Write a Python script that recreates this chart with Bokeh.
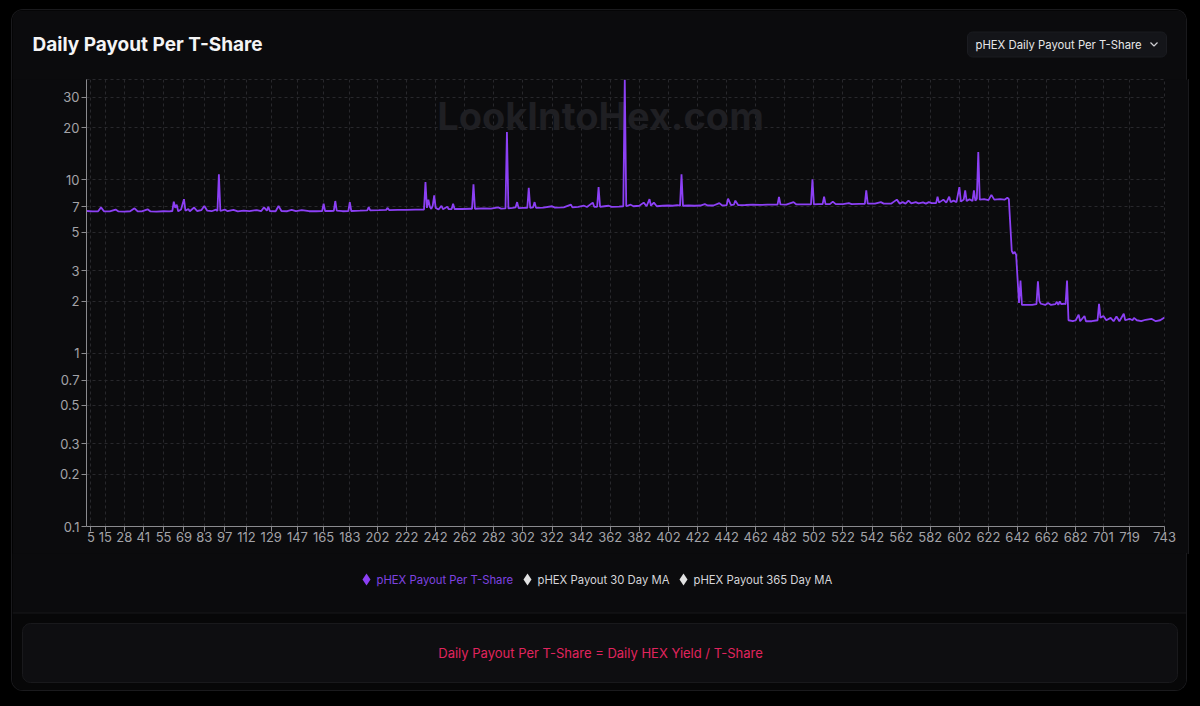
from bokeh.plotting import figure
from bokeh.models import Range1d, FixedTicker, BoxAnnotation, Label
from bokeh.embed import file_html
from bokeh.resources import INLINE
from bokeh.core.properties import value

# ---------------- data ----------------
tick_days = [5, 15, 28, 41, 55, 69, 83, 97, 112, 129, 147, 165, 183, 202, 222,
             242, 262, 282, 302, 322, 342, 362, 382, 402, 422, 442, 462, 482,
             502, 522, 542, 562, 582, 602, 622, 642, 662, 682, 701, 719, 743]
y_ticks = [0.1, 0.2, 0.3, 0.5, 0.7, 1, 2, 3, 5, 7, 10, 20, 30]
y_tick_labels = ["0.1", "0.2", "0.3", "0.5", "0.7", "1", "2", "3", "5", "7",
                 "10", "20", "30"]
legend_labels = ["pHEX Payout Per T-Share", "pHEX Payout 30 Day MA",
                 "pHEX Payout 365 Day MA"]

payout_days = [
    2, 6, 10, 12, 14, 18, 22, 24, 28, 32,
    35, 37, 40, 44, 46, 50, 55, 59, 61, 62,
    63, 64, 65, 67, 69, 70, 72, 73, 76, 78,
    81, 83, 85, 88, 91, 92, 93, 94, 97, 99,
    103, 106, 110, 114, 119, 122, 124, 126, 127, 128,
    132, 134, 136, 140, 143, 146, 150, 155, 160, 164,
    165, 166, 170, 172, 173, 174, 178, 182, 183, 184,
    190, 195, 196, 197, 203, 208, 209, 210, 216, 222,
    228, 234, 235, 236, 237, 238, 239, 240, 241, 242,
    244, 246, 247, 250, 251, 253, 254, 255, 260, 266,
    267, 268, 269, 275, 280, 285, 287, 290, 291, 292,
    295, 297, 298, 299, 302, 305, 306, 307, 309, 310,
    311, 316, 322, 324, 330, 335, 336, 340, 344, 346,
    350, 351, 353, 354, 355, 358, 361, 363, 368, 371,
    372, 373, 376, 378, 382, 385, 387, 389, 390, 392,
    394, 398, 402, 405, 408, 410, 411, 412, 416, 420,
    424, 427, 429, 433, 437, 439, 442, 443, 445, 447,
    448, 450, 455, 460, 465, 470, 475, 477, 478, 479,
    483, 488, 490, 495, 500, 501, 502, 505, 508, 509,
    510, 513, 515, 517, 522, 526, 528, 533, 537, 538,
    539, 544, 548, 550, 555, 559, 561, 563, 565, 567,
    569, 572, 574, 577, 579, 581, 583, 586, 587, 588,
    591, 593, 595, 596, 598, 600, 602, 603, 605, 606,
    607, 609, 611, 612, 613, 614, 615, 616, 619, 622,
    624, 626, 630, 633, 635, 636, 638, 639, 640, 641,
    643, 644, 645, 648, 652, 655, 656, 657, 658, 661,
    663, 665, 668, 669, 670, 671, 672, 674, 675, 676,
    677, 680, 682, 684, 685, 688, 689, 693, 697, 698,
    699, 701, 703, 706, 708, 710, 712, 715, 716, 719,
    721, 722, 724, 727, 730, 734, 737, 740, 743,
]
payout_values = [
    6.62, 6.58, 6.60, 6.95, 6.60, 6.58, 6.75, 6.58, 6.57, 6.60,
    6.86, 6.60, 6.58, 6.77, 6.58, 6.56, 6.60, 6.58, 6.62, 7.50,
    6.90, 7.20, 6.60, 6.75, 7.75, 6.65, 6.80, 6.60, 6.93, 6.62,
    6.70, 7.07, 6.65, 6.60, 6.75, 6.62, 10.8, 6.62, 6.75, 6.60,
    6.72, 6.58, 6.65, 6.60, 6.70, 6.60, 6.95, 6.65, 7.00, 6.62,
    6.60, 7.07, 6.62, 6.60, 6.72, 6.60, 6.70, 6.60, 6.60, 6.62,
    7.30, 6.62, 6.62, 6.64, 7.56, 6.65, 6.60, 6.62, 7.45, 6.62,
    6.65, 6.68, 6.97, 6.68, 6.70, 6.72, 6.90, 6.70, 6.72, 6.72,
    6.74, 6.75, 9.72, 6.90, 7.70, 7.00, 6.80, 7.10, 8.15, 6.90,
    6.75, 7.10, 6.78, 7.00, 6.78, 6.80, 7.30, 6.80, 6.80, 6.82,
    6.80, 9.43, 6.82, 6.85, 6.83, 6.95, 6.83, 6.85, 18.9, 6.85,
    6.90, 6.95, 7.45, 6.88, 6.90, 6.90, 9.00, 6.90, 6.95, 7.45,
    6.90, 6.93, 7.05, 6.92, 6.95, 7.20, 6.95, 7.00, 7.10, 6.98,
    7.40, 7.00, 7.00, 9.10, 7.00, 7.05, 7.10, 7.00, 7.02, 7.05,
    38.0, 7.05, 7.20, 7.05, 7.10, 7.40, 7.05, 7.75, 7.10, 7.40,
    7.05, 7.10, 7.12, 7.10, 7.15, 7.10, 10.8, 7.10, 7.12, 7.10,
    7.12, 7.25, 7.12, 7.12, 7.35, 7.12, 7.15, 7.80, 7.15, 7.20,
    7.60, 7.15, 7.17, 7.20, 7.18, 7.20, 7.20, 7.20, 7.98, 7.22,
    7.20, 7.45, 7.22, 7.22, 7.22, 10.1, 7.22, 7.25, 7.25, 8.00,
    7.25, 7.25, 7.50, 7.25, 7.25, 7.35, 7.25, 7.27, 7.28, 8.70,
    7.30, 7.30, 7.45, 7.30, 7.30, 7.70, 7.30, 7.45, 7.30, 7.60,
    7.32, 7.45, 7.32, 7.42, 7.30, 7.45, 7.35, 7.35, 8.00, 7.40,
    7.70, 7.40, 8.00, 7.45, 7.60, 7.45, 9.10, 7.50, 7.70, 8.70,
    7.55, 7.75, 7.55, 8.70, 7.60, 7.80, 14.5, 7.70, 7.75, 7.65,
    8.20, 7.70, 7.75, 7.70, 7.90, 7.75, 3.90, 3.75, 3.85, 3.70,
    1.95, 2.63, 1.90, 1.90, 1.90, 1.92, 2.60, 2.00, 1.93, 1.90,
    1.95, 1.90, 1.92, 1.98, 1.90, 1.99, 1.92, 1.93, 1.92, 2.63,
    1.55, 1.53, 1.55, 1.67, 1.53, 1.64, 1.53, 1.53, 1.55, 1.93,
    1.60, 1.64, 1.55, 1.60, 1.53, 1.63, 1.53, 1.69, 1.55, 1.58,
    1.55, 1.60, 1.55, 1.53, 1.56, 1.58, 1.53, 1.55, 1.61,
]

# ---------------- styles ----------------
FONT = "Inter"
CARD = "#0b0b0d"
LOWER = "#070708"
PURPLE = "#8c40f5"
AXIS = "#8a8a8e"
LABEL = "#a3a3a8"
GRID = "#28282c"
EDGE = "#1a1a1d"
W = 1176

legend_marker_colors = [PURPLE, "#e2e2e2", "#e2e2e2"]
legend_text_colors = ["#7f43e0", "#d6d6da", "#d6d6da"]


def blank(height, css):
    f = figure(width=W, height=height, x_range=Range1d(0, W),
               y_range=Range1d(height, 0), output_backend="svg",
               toolbar_location=None, min_border=0,
               x_axis_location=None, y_axis_location=None, styles=css)
    f.xgrid.visible = False
    f.ygrid.visible = False
    f.outline_line_color = None
    f.background_fill_color = CARD
    f.border_fill_color = CARD
    return f


# ---------------- header ----------------
top = blank(71, {"border-top-left-radius": "12px",
                 "border-top-right-radius": "12px", "overflow": "hidden",
                 "border": f"1px solid {EDGE}", "border-bottom": "none"})
top.text(x=[20], y=[34], text=["Daily Payout Per T-Share"],
         text_font=value(FONT), text_font_size="19px", text_font_style="bold",
         text_color="#f4f4f5", text_baseline="middle", text_align="left")
top.add_layout(BoxAnnotation(left=955, right=1154, top=21.5, bottom=46.5,
                             fill_color="#141519", fill_alpha=1,
                             line_color="#1b1c21", line_alpha=1,
                             border_radius=5, level="underlay"))
top.text(x=[963], y=[34.5], text=["pHEX Daily Payout Per T-Share"],
         text_font=value(FONT), text_font_size="11.3px",
         text_color="#e6e6e8", text_baseline="middle", text_align="left")
top.line(x=[1138, 1141.5, 1145], y=[32, 35.5, 32], line_color="#d0d0d4",
         line_width=1.2)

# ---------------- main chart ----------------
p = figure(frame_width=1078, frame_height=447,
           x_range=Range1d(2, 743), y_range=Range1d(0.1, 38),
           y_axis_type="log", output_backend="svg", toolbar_location=None,
           min_border_left=74, min_border_right=24, min_border_top=0,
           min_border_bottom=28,
           styles={"border-left": f"1px solid {EDGE}",
                   "border-right": f"1px solid {EDGE}",
                   "margin-top": "-1px"})
p.background_fill_color = CARD
p.border_fill_color = CARD
p.outline_line_color = GRID
p.outline_line_dash = "3 3"

p.add_layout(Label(x=514, y=411, x_units="screen", y_units="screen",
                   text="LookIntoHex.com", text_font=FONT,
                   text_font_size="38px", text_font_style="bold",
                   text_color="#1f1f23",
                   text_align="center", text_baseline="middle",
                   level="underlay"))

p.line(payout_days, payout_values, line_color=PURPLE, line_width=1.8)

p.xaxis.ticker = FixedTicker(ticks=tick_days, minor_ticks=[])
p.yaxis.ticker = FixedTicker(ticks=y_ticks, minor_ticks=[])
p.yaxis.major_label_overrides = dict(zip(y_ticks, y_tick_labels))

for ax in (p.xaxis, p.yaxis):
    ax.axis_line_color = AXIS
    ax.major_tick_line_color = AXIS
    ax.minor_tick_line_color = None
    ax.major_tick_in = 0
    ax.major_tick_out = 5
    ax.major_label_text_color = LABEL
    ax.major_label_text_font = FONT
    ax.major_label_text_font_size = "13px"
p.xaxis.major_label_standoff = 0
p.yaxis.major_label_standoff = 2

for g in (p.xgrid, p.ygrid):
    g.grid_line_color = GRID
    g.grid_line_dash = "3 3"
    g.grid_line_width = 1

# ---------------- legend + footer ----------------
bot = blank(138, {"border-bottom-left-radius": "12px",
                  "border-bottom-right-radius": "12px", "overflow": "hidden",
                  "border": f"1px solid {EDGE}", "border-top": "none",
                  "margin-top": "-1px"})
bot.add_layout(BoxAnnotation(left=0, right=W, top=59.5, bottom=138,
                             fill_color=LOWER, fill_alpha=1,
                             line_color=None, level="underlay"))
bot.add_layout(BoxAnnotation(left=10, right=1165, top=70, bottom=129,
                             fill_color="#0e0e11", fill_alpha=1,
                             line_color="#19191c", line_alpha=1,
                             border_radius=8, level="underlay"))
bot.line(x=[0, W], y=[59.5, 59.5], line_color="#18181b", line_width=1)

bot.scatter(x=[354, 515, 671], y=[26, 26, 26], marker="diamond", size=12,
            fill_color=legend_marker_colors, line_color=None)
bot.text(x=[364, 525, 681], y=[26.5, 26.5, 26.5], text=legend_labels,
         text_font=value(FONT), text_font_size="11.3px",
         text_color=legend_text_colors, text_baseline="middle",
         text_align="left")

bot.text(x=[588], y=[99.5],
         text=["Daily Payout Per T-Share = Daily HEX Yield / T-Share"],
         text_font=value(FONT), text_font_size="13px", text_color="#e0245e",
         text_baseline="middle", text_align="center")

html = file_html([top, p, bot], INLINE, "Daily Payout Per T-Share")
style = ("<style>html,body{background:#000000 !important;height:auto !important;"
         "overflow:hidden;} body{margin:8px !important;"
         "padding:1px 3px 0 3px !important;}</style>")
html = html.replace("</head>", style + "</head>", 1)
open("out.html", "w").write(html)
